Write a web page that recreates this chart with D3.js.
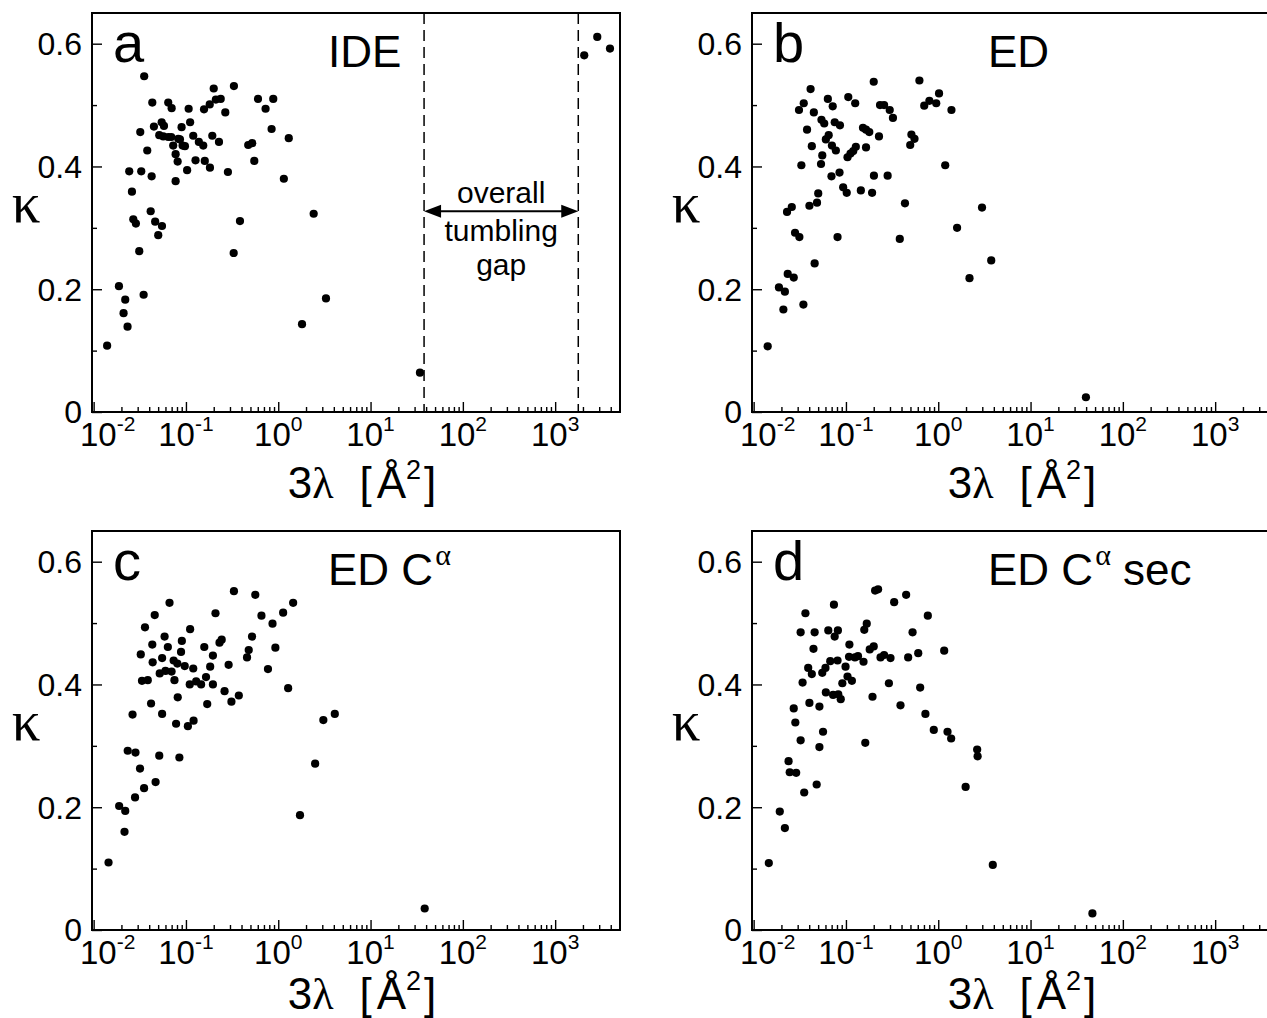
<!DOCTYPE html>
<html>
<head>
<meta charset="utf-8">
<script src="https://cdn.jsdelivr.net/npm/d3@7"></script>
<style>
  body { margin: 0; background: #fff; }
  svg text { font-family: "Liberation Sans", Arial, Helvetica, sans-serif; fill: #000; }
  svg text.serif, svg tspan.serif { font-family: "Liberation Serif", "Times New Roman", serif; }
</style>
</head>
<body>
<svg id="fig" width="1267" height="1018"></svg>
<script>
// kappa versus 3*lambda for the four models (IDE, ED, ED C-alpha, ED C-alpha sec)

const lambdaIDE = [0.0140, 0.0188, 0.0220, 0.0211, 0.0233, 0.0348, 0.0353, 0.0243, 0.0260, 0.0269,
  0.0287, 0.0312, 0.0320, 0.0328, 0.0381, 0.0425, 0.0415, 0.0464, 0.0501, 0.0550,
  0.0432, 0.0450, 0.0546, 0.0578, 0.0514, 0.0568, 0.0643, 0.0643, 0.0700, 0.0693,
  0.0728, 0.0773, 0.0813, 0.0773, 0.0826, 0.0897, 0.0861, 0.0920, 0.0975, 0.103,
  0.107, 0.111, 0.120, 0.127, 0.138, 0.154, 0.160, 0.157, 0.181, 0.182,
  0.193, 0.200, 0.211, 0.238, 0.228, 0.267, 0.285, 0.331, 0.329, 0.385,
  0.473, 0.522, 0.550, 0.603, 0.729, 0.847, 0.883, 1.15, 1.30, 1.81,
  2.42, 3.29, 34.3, 2065, 2858, 3926];
const kappaIDE = [0.108, 0.205, 0.183, 0.161, 0.139, 0.191, 0.547, 0.392, 0.359, 0.314,
  0.307, 0.262, 0.456, 0.392, 0.426, 0.384, 0.327, 0.310, 0.288, 0.303,
  0.504, 0.465, 0.472, 0.466, 0.451, 0.449, 0.448, 0.504, 0.495, 0.448,
  0.434, 0.420, 0.408, 0.376, 0.445, 0.464, 0.444, 0.434, 0.433, 0.394,
  0.494, 0.472, 0.450, 0.410, 0.440, 0.434, 0.409, 0.493, 0.501, 0.398,
  0.450, 0.527, 0.509, 0.510, 0.440, 0.488, 0.391, 0.531, 0.259, 0.311,
  0.435, 0.438, 0.409, 0.510, 0.494, 0.461, 0.510, 0.380, 0.446, 0.143,
  0.323, 0.185, 0.064, 0.581, 0.611, 0.592];

const lambdaED = [0.0142, 0.0188, 0.0218, 0.0210, 0.0234, 0.0272, 0.0346, 0.0458, 0.0230, 0.0259,
  0.0281, 0.0313, 0.0329, 0.0310, 0.0349, 0.0414, 0.0379, 0.0427, 0.0449, 0.0402,
  0.0486, 0.0501, 0.0537, 0.0554, 0.0543, 0.0582, 0.0637, 0.0719, 0.0606, 0.0650,
  0.0705, 0.0778, 0.0697, 0.0852, 0.0756, 0.0861, 0.0811, 0.0933, 0.102, 0.106,
  0.126, 0.104, 0.112, 0.120, 0.128, 0.145, 0.153, 0.165, 0.179, 0.165,
  0.192, 0.200, 0.201, 0.228, 0.234, 0.259, 0.283, 0.298, 0.323, 0.383,
  0.436, 0.497, 0.512, 0.553, 0.625, 0.705, 0.802, 0.951, 1.02, 1.19,
  1.39, 1.60, 2.18, 2.98, 3.75, 39.8];
const kappaED = [0.107, 0.203, 0.196, 0.167, 0.225, 0.219, 0.175, 0.242, 0.326, 0.334,
  0.292, 0.285, 0.402, 0.492, 0.503, 0.526, 0.460, 0.433, 0.488, 0.336,
  0.341, 0.356, 0.404, 0.418, 0.476, 0.470, 0.510, 0.498, 0.444, 0.451,
  0.434, 0.426, 0.384, 0.390, 0.472, 0.467, 0.285, 0.366, 0.357, 0.513,
  0.503, 0.415, 0.421, 0.425, 0.432, 0.361, 0.463, 0.460, 0.456, 0.431,
  0.357, 0.538, 0.385, 0.449, 0.500, 0.500, 0.385, 0.492, 0.479, 0.282,
  0.340, 0.435, 0.452, 0.445, 0.540, 0.499, 0.507, 0.503, 0.519, 0.402,
  0.492, 0.300, 0.218, 0.333, 0.247, 0.024];

const lambdaEDCa = [0.0145, 0.0189, 0.0220, 0.0216, 0.0234, 0.0284, 0.0264, 0.0281, 0.0318, 0.0352,
  0.0324, 0.0334, 0.0386, 0.0360, 0.0419, 0.0432, 0.0436, 0.0459, 0.0469, 0.0514,
  0.0520, 0.0552, 0.0552, 0.0587, 0.0600, 0.0637, 0.0664, 0.0699, 0.0736, 0.0751,
  0.0782, 0.0807, 0.0815, 0.0849, 0.0885, 0.0903, 0.0970, 0.105, 0.111, 0.110,
  0.120, 0.121, 0.129, 0.146, 0.158, 0.165, 0.170, 0.183, 0.196, 0.196,
  0.209, 0.231, 0.244, 0.262, 0.290, 0.311, 0.331, 0.374, 0.459, 0.479,
  0.520, 0.564, 0.658, 0.774, 0.867, 0.931, 1.13, 1.28, 1.45, 1.72,
  2.51, 3.08, 4.10, 38.6];
const kappaEDCa = [0.110, 0.202, 0.194, 0.160, 0.292, 0.289, 0.351, 0.216, 0.263, 0.231,
  0.449, 0.406, 0.407, 0.493, 0.369, 0.465, 0.436, 0.513, 0.241, 0.284,
  0.418, 0.352, 0.443, 0.478, 0.422, 0.461, 0.533, 0.421, 0.439, 0.407,
  0.336, 0.434, 0.379, 0.281, 0.453, 0.471, 0.430, 0.332, 0.490, 0.400,
  0.426, 0.341, 0.405, 0.400, 0.461, 0.412, 0.368, 0.429, 0.447, 0.400,
  0.516, 0.468, 0.473, 0.389, 0.432, 0.372, 0.552, 0.382, 0.444, 0.456,
  0.478, 0.546, 0.512, 0.425, 0.499, 0.460, 0.517, 0.394, 0.533, 0.187,
  0.271, 0.342, 0.352, 0.035];

const lambdaEDCaSec = [0.0146, 0.0192, 0.0218, 0.0239, 0.0246, 0.0289, 0.0272, 0.0283, 0.0323, 0.0323,
  0.0339, 0.0353, 0.0364, 0.0390, 0.0402, 0.0427, 0.0445, 0.0458, 0.0482, 0.0516,
  0.0516, 0.0554, 0.0565, 0.0606, 0.0600, 0.0644, 0.0676, 0.0726, 0.0741, 0.0755,
  0.0811, 0.0818, 0.0826, 0.0878, 0.0914, 0.0990, 0.104, 0.109, 0.108, 0.116,
  0.125, 0.135, 0.155, 0.158, 0.162, 0.168, 0.181, 0.194, 0.200, 0.207,
  0.223, 0.237, 0.259, 0.292, 0.304, 0.333, 0.390, 0.449, 0.472, 0.527,
  0.607, 0.637, 0.726, 0.771, 0.895, 1.16, 1.26, 1.38, 1.98, 2.64,
  2.67, 3.90, 46.8];
const kappaEDCaSec = [0.109, 0.193, 0.166, 0.275, 0.257, 0.256, 0.361, 0.338, 0.309, 0.485,
  0.403, 0.224, 0.516, 0.427, 0.370, 0.417, 0.458, 0.485, 0.237, 0.364,
  0.298, 0.419, 0.323, 0.387, 0.427, 0.488, 0.438, 0.383, 0.530, 0.478,
  0.439, 0.488, 0.384, 0.376, 0.402, 0.429, 0.413, 0.465, 0.445, 0.406,
  0.444, 0.446, 0.437, 0.489, 0.305, 0.499, 0.457, 0.380, 0.462, 0.553,
  0.555, 0.444, 0.448, 0.402, 0.443, 0.534, 0.366, 0.546, 0.444, 0.485,
  0.451, 0.395, 0.352, 0.512, 0.326, 0.455, 0.323, 0.312, 0.233, 0.294,
  0.283, 0.106, 0.027];

// axis ticks
const xMajorTicks = [1e-2, 1e-1, 1e0, 1e1, 1e2, 1e3];
const xMajorExponents = ["-2", "-1", "0", "1", "2", "3"];
const yMajorTicks = [0, 0.2, 0.4, 0.6];
const yMinorTicks = [0.1, 0.3, 0.5];
const xDomain = [0.0096, 5040];
const yDomain = [0, 0.65];

// overall tumbling gap (panel a)
const gapBounds = [38, 1780];
const gapArrowKappa = 0.327;
const gapWords = ["overall", "tumbling", "gap"];

// layout
const W = 528, H = 399;
const panels = [
  { letter: "a", name: "IDE", alpha: false, tail: "", lam: lambdaIDE, kap: kappaIDE, left: 92, top: 13, gap: true, titleDy: 86 },
  { letter: "b", name: "ED", alpha: false, tail: "", lam: lambdaED, kap: kappaED, left: 752, top: 13, gap: false, titleDy: 86 },
  { letter: "c", name: "ED C", alpha: true, tail: "", lam: lambdaEDCa, kap: kappaEDCa, left: 92, top: 531, gap: false, titleDy: 79 },
  { letter: "d", name: "ED C", alpha: true, tail: " sec", lam: lambdaEDCaSec, kap: kappaEDCaSec, left: 752, top: 531, gap: false, titleDy: 79 }
];

const svg = d3.select("#fig");
svg.append("rect").attr("width", 1267).attr("height", 1018).attr("fill", "#fff");

const x = d3.scaleLog().domain(xDomain).range([0, W]);
const y = d3.scaleLinear().domain(yDomain).range([H, 0]);

const xMinorTicks = [];
for (let e = -3; e <= 3; e++) {
  for (let k = 2; k <= 9; k++) {
    const v = k * Math.pow(10, e);
    if (v >= xDomain[0] && v <= xDomain[1]) xMinorTicks.push(v);
  }
}

function styleAxis(g) {
  g.select(".domain").remove();
  g.selectAll("line").attr("stroke", "#000").attr("stroke-width", 1.4);
}

panels.forEach(p => {
  const g = svg.append("g").attr("transform", `translate(${p.left},${p.top})`);

  // x axis: inward ticks
  g.append("g").attr("transform", `translate(0,${H})`)
    .call(d3.axisBottom(x).tickValues(xMinorTicks).tickSize(-5).tickFormat(""))
    .call(styleAxis);
  g.append("g").attr("transform", `translate(0,${H})`)
    .call(d3.axisBottom(x).tickValues(xMajorTicks).tickSize(-10).tickFormat(""))
    .call(styleAxis);

  // x tick labels 10^n (the first one is nudged clear of the y-axis "0")
  xMajorTicks.forEach((v, i) => {
    const t = g.append("text")
      .attr("x", x(v) + (i === 0 ? 14 : 0))
      .attr("y", H + 34)
      .attr("text-anchor", "middle")
      .attr("font-size", 33);
    t.append("tspan").text("10");
    t.append("tspan").attr("font-size", 21).attr("dy", -15).text(xMajorExponents[i]);
  });

  // y axis: inward ticks
  g.append("g")
    .call(d3.axisLeft(y).tickValues(yMinorTicks).tickSize(-5).tickFormat(""))
    .call(styleAxis);
  const ya = g.append("g")
    .call(d3.axisLeft(y).tickValues(yMajorTicks).tickSize(-10).tickPadding(10)
      .tickFormat(d => d === 0 ? "0" : d.toFixed(1)))
    .call(styleAxis);
  ya.attr("font-size", null).attr("font-family", null);
  ya.selectAll("text").attr("font-size", 32).attr("dy", "0.34em");

  // frame
  g.append("rect").attr("width", W).attr("height", H)
    .attr("fill", "none").attr("stroke", "#000").attr("stroke-width", 2);

  // gap markers
  if (p.gap) {
    const x0 = x(gapBounds[0]), x1 = x(gapBounds[1]);
    g.selectAll(".gapline").data(gapBounds).join("line")
      .attr("x1", d => x(d)).attr("x2", d => x(d))
      .attr("y1", 0).attr("y2", H)
      .attr("stroke", "#000").attr("stroke-width", 1.5)
      .attr("stroke-dasharray", "11,6");
    const ay = y(gapArrowKappa);
    const hl = 17, hw = 6.5;
    g.append("line").attr("x1", x0 + hl - 2).attr("x2", x1 - hl + 2)
      .attr("y1", ay).attr("y2", ay).attr("stroke", "#000").attr("stroke-width", 2);
    g.append("path").attr("fill", "#000")
      .attr("d", `M${x0},${ay}L${x0 + hl},${ay - hw}L${x0 + hl},${ay + hw}Z`);
    g.append("path").attr("fill", "#000")
      .attr("d", `M${x1},${ay}L${x1 - hl},${ay - hw}L${x1 - hl},${ay + hw}Z`);
    const xm = x(Math.sqrt(gapBounds[0] * gapBounds[1]));
    const offs = [-8, 30, 64];
    gapWords.forEach((w, i) => {
      g.append("text").attr("x", xm).attr("y", ay + offs[i])
        .attr("text-anchor", "middle").attr("font-size", 30).text(w);
    });
  }

  // points
  g.append("g").selectAll("circle")
    .data(p.lam.map((l, i) => [l, p.kap[i]]))
    .join("circle")
    .attr("cx", d => x(d[0]))
    .attr("cy", d => y(d[1]))
    .attr("r", 4.1)
    .attr("fill", "#000");

  // panel letter and model name
  g.append("text").attr("x", 21).attr("y", 49).attr("font-size", 56).text(p.letter);
  const nm = g.append("text").attr("x", 236).attr("y", 54).attr("font-size", 44);
  nm.append("tspan").text(p.name);
  if (p.alpha) {
    nm.append("tspan").attr("class", "serif").attr("font-size", 30).attr("dx", 2).attr("dy", -20).text("α");
    if (p.tail) nm.append("tspan").attr("font-size", 44).attr("dy", 20).text(p.tail);
  }

  // axis titles
  g.append("text").attr("class", "serif")
    .attr("x", -66).attr("y", 209).attr("text-anchor", "middle")
    .attr("font-size", 57).text("κ");
  const xt = g.append("text").attr("x", 270).attr("y", H + p.titleDy)
    .attr("text-anchor", "middle").attr("font-size", 44);
  xt.append("tspan").text("3");
  xt.append("tspan").attr("class", "serif").text("λ");
  xt.append("tspan").attr("dx", 26).text("[");
  xt.append("tspan").attr("dx", 5).text("Å");
  xt.append("tspan").attr("font-size", 27).attr("dy", -19).text("2");
  xt.append("tspan").attr("dy", 19).attr("dx", 3).text("]");
});
</script>
</body>
</html>
